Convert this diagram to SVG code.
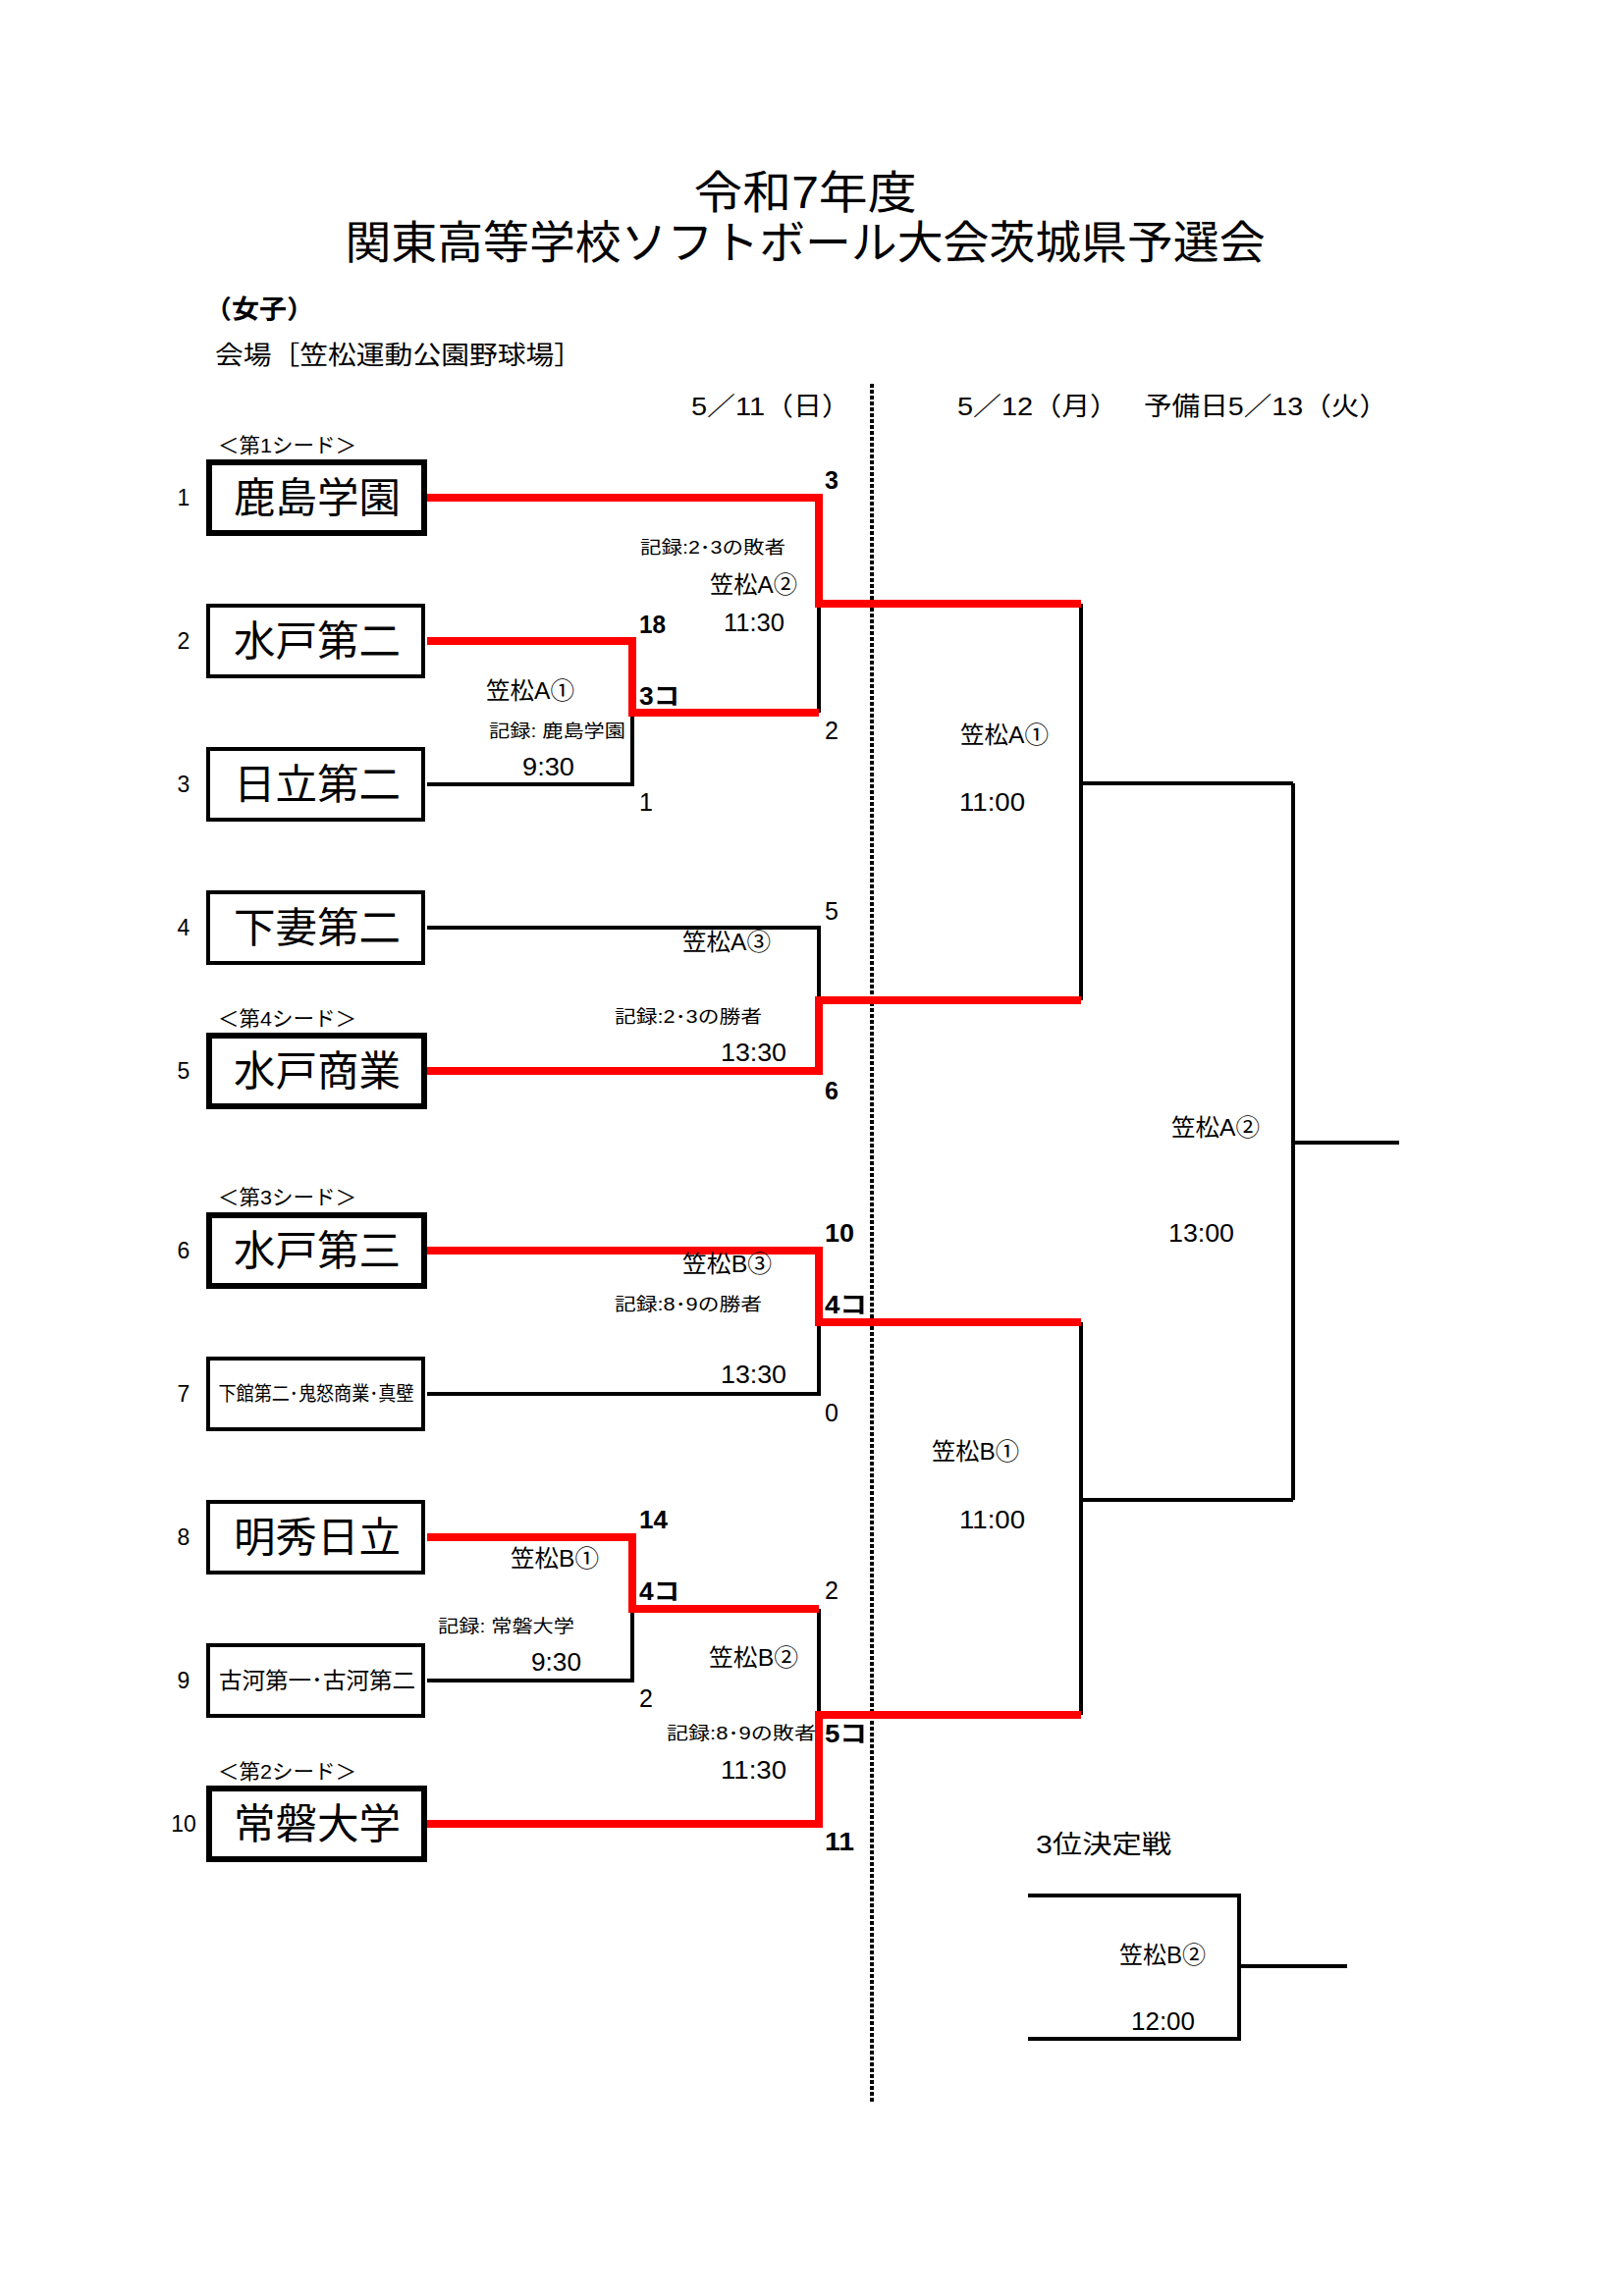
<svg xmlns="http://www.w3.org/2000/svg" width="1654" height="2339" viewBox="0 0 1654 2339">
<style>
text { font-family: 'Liberation Sans', 'Noto Sans CJK JP', sans-serif; fill: #000; }
.title { font-size: 46px; }
.hd { font-size: 26px; }
.seed { font-size: 21px; }
.num { font-size: 23px; text-anchor: middle; }
.name { font-size: 42px; text-anchor: middle; }
.lbl { font-size: 24px; }
.rec { font-size: 18px; }
.tm { font-size: 25px; }
.sc { font-size: 25px; font-weight: bold; }
.red { stroke: #ff0000; stroke-width: 8; fill: none; stroke-linejoin: miter; }
.blk { stroke: #000; stroke-width: 4; fill: none; }
.boxThick { fill: #fff; stroke: #000; stroke-width: 6; }
.boxThin { fill: #fff; stroke: #000; stroke-width: 4; }
</style>

<g id="header">
<text class="title" x="820" y="212" text-anchor="middle" textLength="227" lengthAdjust="spacingAndGlyphs">令和7年度</text>
<text class="title" x="820" y="263" text-anchor="middle" textLength="937" lengthAdjust="spacingAndGlyphs">関東高等学校ソフトボール大会茨城県予選会</text>
<text class="hd" x="208" y="324" font-weight="bold" textLength="112" lengthAdjust="spacingAndGlyphs">（女子）</text>
<text class="hd" x="219" y="371" textLength="374" lengthAdjust="spacingAndGlyphs">会場［笠松運動公園野球場］</text>
<text class="hd" x="704" y="423" textLength="162" lengthAdjust="spacingAndGlyphs">5／11（日）</text>
<text class="hd" x="975" y="423" textLength="164" lengthAdjust="spacingAndGlyphs">5／12（月）</text>
<text class="hd" x="1165" y="423" textLength="248" lengthAdjust="spacingAndGlyphs">予備日5／13（火）</text>
<line x1="888" y1="391" x2="888" y2="2143" stroke="#000" stroke-width="4" stroke-dasharray="4 2"/>
</g>

<g id="connectors">
<path class="blk" d="M435,799 H644 V726"/>
<path class="blk" d="M834,615 V726"/>
<path class="blk" d="M435,945 H834 V1019"/>
<path class="blk" d="M1101,615 V1019 M1101,798 H1317"/>
<path class="blk" d="M435,1420 H834 V1347"/>
<path class="blk" d="M435,1712 H644 V1639"/>
<path class="blk" d="M834,1639 V1747"/>
<path class="blk" d="M1101,1347 V1747 M1101,1528 H1317"/>
<path class="blk" d="M1317,798 V1528 M1317,1164 H1425"/>
<path class="blk" d="M1047,1931 H1262 V2077 H1047 M1262,2003 H1372"/>
<path class="red" d="M435,507 H834 V615 H1101"/>
<path class="red" d="M435,653 H644 V726 H834"/>
<path class="red" d="M435,1091 H834 V1019 H1101"/>
<path class="red" d="M435,1274 H834 V1347 H1101"/>
<path class="red" d="M435,1566 H644 V1639 H834"/>
<path class="red" d="M435,1858 H834 V1747 H1101"/>
</g>

<g id="team1">
<text class="seed" x="222" y="461" textLength="141" lengthAdjust="spacingAndGlyphs">＜第1シード＞</text>
<text class="num" x="187" y="515">1</text>
<rect class="boxThick" x="213" y="471" width="219" height="72"/>
<text class="name" x="323" y="522" textLength="170" lengthAdjust="spacingAndGlyphs">鹿島学園</text>
</g>
<g id="team2">
<text class="num" x="187" y="661">2</text>
<rect class="boxThin" x="212" y="617" width="219" height="72"/>
<text class="name" x="323" y="668" textLength="170" lengthAdjust="spacingAndGlyphs">水戸第二</text>
</g>
<g id="team3">
<text class="num" x="187" y="807">3</text>
<rect class="boxThin" x="212" y="763" width="219" height="72"/>
<text class="name" x="323" y="814" textLength="170" lengthAdjust="spacingAndGlyphs">日立第二</text>
</g>
<g id="team4">
<text class="num" x="187" y="953">4</text>
<rect class="boxThin" x="212" y="909" width="219" height="72"/>
<text class="name" x="323" y="960" textLength="170" lengthAdjust="spacingAndGlyphs">下妻第二</text>
</g>
<g id="team5">
<text class="seed" x="222" y="1045" textLength="141" lengthAdjust="spacingAndGlyphs">＜第4シード＞</text>
<text class="num" x="187" y="1099">5</text>
<rect class="boxThick" x="213" y="1055" width="219" height="72"/>
<text class="name" x="323" y="1106" textLength="170" lengthAdjust="spacingAndGlyphs">水戸商業</text>
</g>
<g id="team6">
<text class="seed" x="222" y="1227" textLength="141" lengthAdjust="spacingAndGlyphs">＜第3シード＞</text>
<text class="num" x="187" y="1282">6</text>
<rect class="boxThick" x="213" y="1238" width="219" height="72"/>
<text class="name" x="323" y="1289" textLength="170" lengthAdjust="spacingAndGlyphs">水戸第三</text>
</g>
<g id="team7">
<text class="num" x="187" y="1428">7</text>
<rect class="boxThin" x="212" y="1384" width="219" height="72"/>
<text x="322" y="1427" font-size="20" text-anchor="middle" textLength="199" lengthAdjust="spacingAndGlyphs">下館第二･鬼怒商業･真壁</text>
</g>
<g id="team8">
<text class="num" x="187" y="1574">8</text>
<rect class="boxThin" x="212" y="1530" width="219" height="72"/>
<text class="name" x="323" y="1581" textLength="170" lengthAdjust="spacingAndGlyphs">明秀日立</text>
</g>
<g id="team9">
<text class="num" x="187" y="1720">9</text>
<rect class="boxThin" x="212" y="1676" width="219" height="72"/>
<text x="323" y="1720" font-size="23" text-anchor="middle" textLength="200" lengthAdjust="spacingAndGlyphs">古河第一･古河第二</text>
</g>
<g id="team10">
<text class="seed" x="222" y="1812" textLength="141" lengthAdjust="spacingAndGlyphs">＜第2シード＞</text>
<text class="num" x="187" y="1866">10</text>
<rect class="boxThick" x="213" y="1822" width="219" height="72"/>
<text class="name" x="323" y="1873" textLength="170" lengthAdjust="spacingAndGlyphs">常磐大学</text>
</g>

<g id="matchA1">
<text class="lbl" x="495" y="712" textLength="90" lengthAdjust="spacingAndGlyphs">笠松A①</text>
<text class="rec" x="498" y="751" textLength="139" lengthAdjust="spacingAndGlyphs">記録: 鹿島学園</text>
<text class="tm" x="532" y="790" textLength="53" lengthAdjust="spacingAndGlyphs">9:30</text>
<text class="sc" x="651" y="645" textLength="27" lengthAdjust="spacingAndGlyphs">18</text>
<text class="sc" x="651" y="718" textLength="41" lengthAdjust="spacingAndGlyphs">3コ</text>
<text class="tm" x="651" y="826">1</text>
</g>
<g id="matchA2">
<text class="sc" x="840" y="498">3</text>
<text class="rec" x="652" y="564" textLength="148" lengthAdjust="spacingAndGlyphs">記録:2･3の敗者</text>
<text class="lbl" x="723" y="604" textLength="89" lengthAdjust="spacingAndGlyphs">笠松A②</text>
<text class="tm" x="737" y="643" textLength="62" lengthAdjust="spacingAndGlyphs">11:30</text>
<text class="tm" x="840" y="753">2</text>
</g>
<g id="matchA3">
<text class="tm" x="840" y="937">5</text>
<text class="lbl" x="695" y="968" textLength="90" lengthAdjust="spacingAndGlyphs">笠松A③</text>
<text class="rec" x="626" y="1042" textLength="150" lengthAdjust="spacingAndGlyphs">記録:2･3の勝者</text>
<text class="tm" x="734" y="1081" textLength="67" lengthAdjust="spacingAndGlyphs">13:30</text>
<text class="sc" x="840" y="1120">6</text>
</g>
<g id="semiA1">
<text class="lbl" x="978" y="757" textLength="90" lengthAdjust="spacingAndGlyphs">笠松A①</text>
<text class="tm" x="977" y="826" textLength="67" lengthAdjust="spacingAndGlyphs">11:00</text>
</g>
<g id="finalA2">
<text class="lbl" x="1193" y="1157" textLength="90" lengthAdjust="spacingAndGlyphs">笠松A②</text>
<text class="tm" x="1190" y="1265" textLength="67" lengthAdjust="spacingAndGlyphs">13:00</text>
</g>
<g id="matchB3">
<text class="sc" x="840" y="1265" textLength="30" lengthAdjust="spacingAndGlyphs">10</text>
<text class="lbl" x="695" y="1296" textLength="91" lengthAdjust="spacingAndGlyphs">笠松B③</text>
<text class="rec" x="626" y="1335" textLength="150" lengthAdjust="spacingAndGlyphs">記録:8･9の勝者</text>
<text class="sc" x="840" y="1338" textLength="43" lengthAdjust="spacingAndGlyphs">4コ</text>
<text class="tm" x="734" y="1409" textLength="67" lengthAdjust="spacingAndGlyphs">13:30</text>
<text class="tm" x="840" y="1448">0</text>
</g>
<g id="semiB1">
<text class="lbl" x="949" y="1487" textLength="89" lengthAdjust="spacingAndGlyphs">笠松B①</text>
<text class="tm" x="977" y="1557" textLength="67" lengthAdjust="spacingAndGlyphs">11:00</text>
</g>
<g id="matchB1">
<text class="sc" x="651" y="1557" textLength="29" lengthAdjust="spacingAndGlyphs">14</text>
<text class="lbl" x="520" y="1596" textLength="90" lengthAdjust="spacingAndGlyphs">笠松B①</text>
<text class="sc" x="651" y="1630" textLength="41" lengthAdjust="spacingAndGlyphs">4コ</text>
<text class="rec" x="446" y="1663" textLength="139" lengthAdjust="spacingAndGlyphs">記録: 常磐大学</text>
<text class="tm" x="541" y="1702" textLength="51" lengthAdjust="spacingAndGlyphs">9:30</text>
<text class="tm" x="651" y="1739">2</text>
</g>
<g id="matchB2">
<text class="tm" x="840" y="1629">2</text>
<text class="lbl" x="722" y="1697" textLength="91" lengthAdjust="spacingAndGlyphs">笠松B②</text>
<text class="rec" x="679" y="1772" textLength="152" lengthAdjust="spacingAndGlyphs">記録:8･9の敗者</text>
<text class="sc" x="840" y="1775" textLength="43" lengthAdjust="spacingAndGlyphs">5コ</text>
<text class="tm" x="734" y="1812" textLength="67" lengthAdjust="spacingAndGlyphs">11:30</text>
<text class="sc" x="840" y="1885" textLength="30" lengthAdjust="spacingAndGlyphs">11</text>
</g>
<g id="third">
<text class="hd" x="1055" y="1888" textLength="138" lengthAdjust="spacingAndGlyphs">3位決定戦</text>
<text class="lbl" x="1140" y="2000" textLength="88" lengthAdjust="spacingAndGlyphs">笠松B②</text>
<text class="tm" x="1152" y="2068" textLength="65" lengthAdjust="spacingAndGlyphs">12:00</text>
</g>
</svg>
